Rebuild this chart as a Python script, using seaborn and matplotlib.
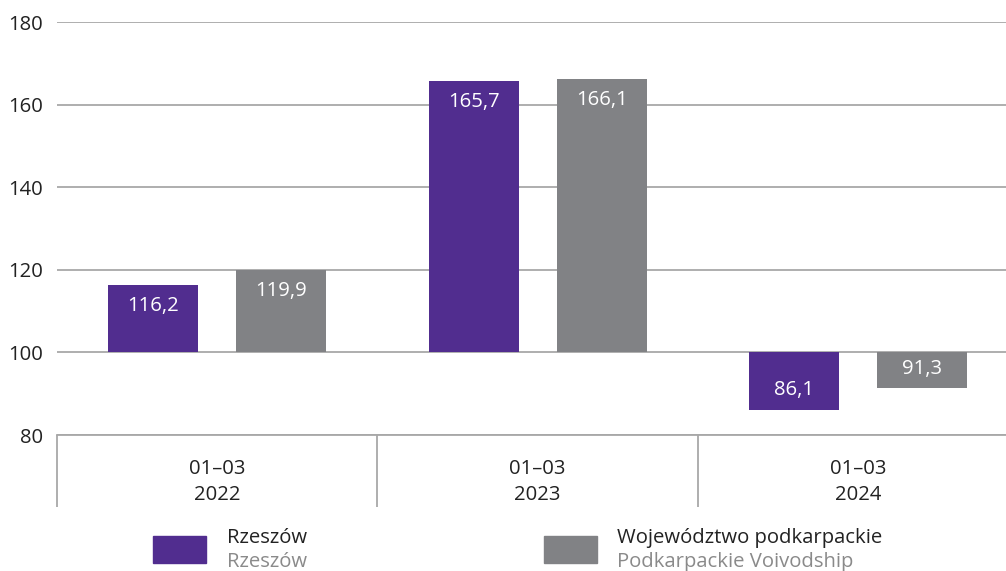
import numpy as np
import pandas as pd
import seaborn as sns
from matplotlib import pyplot as plt
from matplotlib.patches import Rectangle

periods = ['01–03\n2022', '01–03\n2023', '01–03\n2024']
rzeszow = [116.2, 165.7, 86.1]
podkarpackie = [119.9, 166.1, 91.3]
series_pl = ['Rzeszów', 'Województwo podkarpackie']
series_en = ['Rzeszów', 'Podkarpackie Voivodship']
colors = ['#512d8f', '#818285']
base = 100

sns.set_style('white')
plt.rcParams['font.family'] = ['Open Sans', 'DejaVu Sans']
fs = 14.6

df = pd.DataFrame({
    'period': periods * 2,
    'series': [series_pl[0]] * 3 + [series_pl[1]] * 3,
    'value': rzeszow + podkarpackie,
})
df['diff'] = df['value'] - base

fig = plt.figure(figsize=(10.06, 5.71), dpi=100)
ax = fig.add_axes([57 / 1006, 136 / 571, 949 / 1006, 413 / 571])

sns.barplot(data=df, x='period', y='diff', hue='series', palette=colors,
            order=periods, hue_order=series_pl, gap=0.3, bottom=base,
            saturation=1, legend=False, ax=ax, zorder=3, linewidth=0)

ax.set_ylim(80, 180)
ax.set_xlim(-0.5, 2.461)
ax.set_yticks(np.arange(80, 181, 20))
ax.yaxis.grid(True, color='#a8a8a8', lw=1.3, zorder=0)
ax.tick_params(axis='y', length=0, pad=10, labelsize=fs, labelcolor='#222222')
for s in ['top', 'right', 'left']:
    ax.spines[s].set_visible(False)
ax.spines['bottom'].set_color('#a8a8a8')
ax.spines['bottom'].set_linewidth(1.3)

ax.set_xticks(range(3))
ax.set_xticklabels(periods, linespacing=1.45)
ax.tick_params(axis='x', length=0, pad=17, labelsize=fs, labelcolor='#222222')
# separators between the periods, drawn as long minor ticks
ax.set_xticks([-0.5, 0.5, 1.5], minor=True)
ax.tick_params(axis='x', which='minor', bottom=True, length=52, width=1.3,
               color='#a8a8a8')
ax.set_xlabel('')
ax.set_ylabel('')

# value labels inside the bars
for i, vals in enumerate([rzeszow, podkarpackie]):
    off = -0.2 if i == 0 else 0.2
    for j, v in enumerate(vals):
        dy = -15 if v >= base else 14
        ax.annotate(f'{v:.1f}'.replace('.', ','), (j + off, v), xytext=(0, dy),
                    textcoords='offset points', ha='center', va='center',
                    color='white', fontsize=fs, zorder=4)

# legend
W, H = 1006, 571
for (px, tx), c, pl, en in zip([(153, 227), (544, 617)], colors, series_pl, series_en):
    fig.patches.append(Rectangle((px / W, 1 - 563 / H), 53 / W, 27 / H,
                                 transform=fig.transFigure, color=c))
    fig.text(tx / W, 1 - 538 / H, pl, fontsize=fs, color='#222222', va='center')
    fig.text(tx / W, 1 - 562 / H, en, fontsize=fs, color='#8a8a8a', va='center')

fig.savefig('out.png', dpi=100)
